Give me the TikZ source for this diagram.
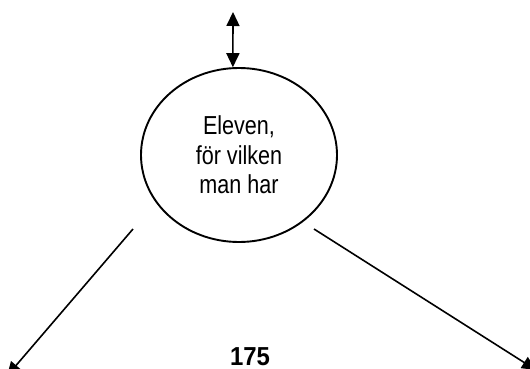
\documentclass[tikz,border=0pt]{standalone}
\usepackage{fontspec}
\setmainfont{Liberation Sans}[FakeStretch=0.83]
\newfontfamily\numfont{Liberation Sans}[FakeStretch=0.92]
\usepackage{tikz}
\usetikzlibrary{positioning}
\usetikzlibrary{arrows.meta}
\usetikzlibrary{shapes.geometric}
\tikzset{
    link/.style={line width=1.6pt, -{Triangle[length=14pt, width=13pt]}},
}

\begin{document}
\begin{tikzpicture}[x=1pt, y=-1pt]
    \useasboundingbox (0, 0) rectangle (530, 369);
    % Nodes
    \node[draw, ellipse, line width=1.9pt, minimum width=196pt, minimum height=174pt, inner sep=0pt,
        align=center, font=\fontsize{26}{29.5}\selectfont] (pupil) at (239, 155)
        {Eleven,\\för vilken\\man har};
    \node[anchor=base, inner sep=0pt, font=\numfont\bfseries\fontsize{26}{30}\selectfont] (num) at (250, 365) {175};
    \coordinate (up) at (233, 12);
    \coordinate (lstart) at (133, 229);
    \coordinate (lend) at (7, 376);
    \coordinate (rstart) at (314, 229);
    \coordinate (rend) at (536, 370);

    % Edges
    \draw[line width=1.6pt, {Triangle[length=14pt, width=13pt]}-{Triangle[length=14pt, width=13pt]}] (up) -- (pupil.94);
    \draw[link] (lstart) -- (lend);
    \draw[link] (rstart) -- (rend);
\end{tikzpicture}
\end{document}
